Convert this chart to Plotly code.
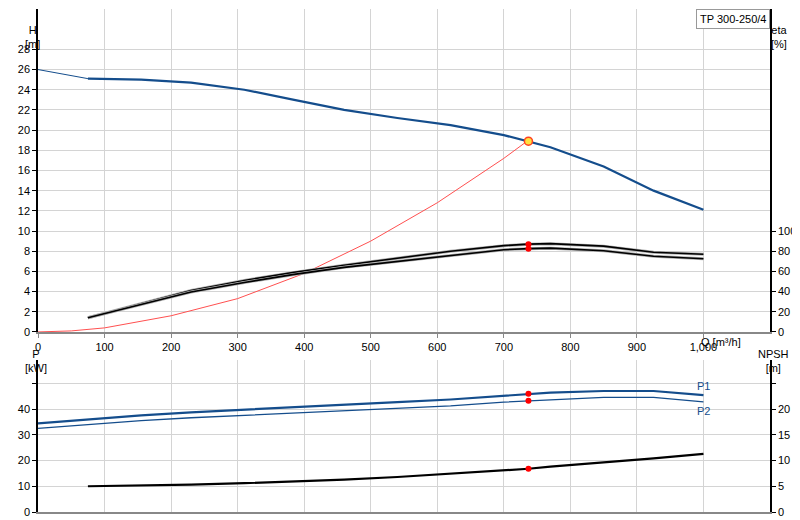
import plotly.graph_objects as go

q = [75, 155, 230, 310, 385, 460, 540, 620, 700, 737, 770, 850, 925, 1000]
head = [25.1, 25.0, 24.7, 24.0, 23.0, 22.0, 21.2, 20.5, 19.5, 18.9, 18.3, 16.4, 14.0, 12.1]
head_ext_q = [0, 75]
head_ext = [26.0, 25.1]
eta_upper = [14, 28, 41, 51, 59, 66, 73, 80, 85.5, 87, 87.5, 85, 79, 77]
eta_lower = [14, 27, 39.5, 49, 57, 64, 70, 76, 81.5, 82.5, 83, 80.5, 75, 72.5]
sys_q = [0, 50, 100, 200, 300, 400, 500, 600, 700, 737]
sys_h = [0, 0.1, 0.4, 1.6, 3.3, 5.8, 9.0, 12.8, 17.2, 19.0]
p_q = [0, 75, 155, 230, 310, 385, 460, 540, 620, 700, 737, 770, 850, 925, 1000]
p1 = [34.4, 36.0, 37.5, 38.7, 39.8, 40.8, 41.8, 42.7, 43.7, 45.2, 45.9, 46.4, 47.0, 47.0, 45.4]
p2 = [32.5, 34.0, 35.5, 36.6, 37.6, 38.5, 39.3, 40.2, 41.2, 42.7, 43.2, 43.6, 44.5, 44.5, 42.8]
npsh = [5.0, 5.1, 5.3, 5.6, 5.9, 6.3, 6.8, 7.4, 8.1, 8.4, 8.8, 9.6, 10.4, 11.3]
duty_q = 737

blue = '#144d8c'
fig = go.Figure()

# top chart
fig.add_trace(go.Scatter(x=head_ext_q, y=head_ext, mode='lines', line=dict(color=blue, width=1)))
fig.add_trace(go.Scatter(x=q, y=head, mode='lines', line=dict(color=blue, width=2.2)))
fig.add_trace(go.Scatter(x=sys_q, y=sys_h, mode='lines', line=dict(color='#ff5050', width=1)))
for e in (eta_upper, eta_lower):
    fig.add_trace(go.Scatter(x=q, y=e, yaxis='y2', mode='lines', line=dict(color='#b0b0b0', width=3)))
    fig.add_trace(go.Scatter(x=q, y=e, yaxis='y2', mode='lines', line=dict(color='black', width=1.6)))
fig.add_trace(go.Scatter(x=[duty_q, duty_q], y=[eta_upper[9], eta_lower[9]], yaxis='y2', mode='markers',
                         marker=dict(color='red', size=6)))
fig.add_trace(go.Scatter(x=[duty_q], y=[head[9]], mode='markers',
                         marker=dict(color='#ffe040', size=8, line=dict(color='#ff4020', width=1.5))))

# bottom chart
fig.add_trace(go.Scatter(x=p_q, y=p1, xaxis='x2', yaxis='y3', mode='lines', line=dict(color=blue, width=2.2)))
fig.add_trace(go.Scatter(x=p_q, y=p2, xaxis='x2', yaxis='y3', mode='lines', line=dict(color=blue, width=1.3)))
fig.add_trace(go.Scatter(x=q, y=npsh, xaxis='x2', yaxis='y4', mode='lines', line=dict(color='black', width=2.2)))
fig.add_trace(go.Scatter(x=[duty_q, duty_q], y=[p1[10], p2[10]], xaxis='x2', yaxis='y3', mode='markers',
                         marker=dict(color='red', size=6)))
fig.add_trace(go.Scatter(x=[duty_q], y=[npsh[9]], xaxis='x2', yaxis='y4', mode='markers',
                         marker=dict(color='red', size=6)))

grid = '#d4d4d4'
tick = dict(family='Liberation Sans, Arial', size=11, color='black')
xcommon = dict(range=[0, 1100], tickvals=list(range(0, 1001, 100)), showgrid=True, gridcolor=grid,
               zeroline=False, showline=True, linecolor='#888888', linewidth=2, ticks='outside',
               ticklen=4, tickcolor='#888888', tickfont=tick, automargin=False)
ycommon = dict(showgrid=True, gridcolor=grid, zeroline=False, showline=True, linecolor='black',
               linewidth=1.5, ticks='outside', ticklen=4, tickcolor='black', tickfont=tick,
               automargin=False)

fig.update_layout(
    width=800, height=520, showlegend=False,
    plot_bgcolor='white', paper_bgcolor='white',
    margin=dict(l=30, r=38, t=1, b=16),
    xaxis=dict(xcommon, domain=[0, 1], anchor='y', tickformat=',d'),
    yaxis=dict(ycommon, domain=[0.358, 1], range=[0, 32], tickvals=list(range(0, 30, 2))),
    yaxis2=dict(ycommon, overlaying='y', side='right', range=[0, 320], showgrid=False,
                tickvals=[0, 20, 40, 60, 80, 100]),
    xaxis2=dict(xcommon, domain=[0, 1], anchor='y3', showticklabels=False, ticks=''),
    yaxis3=dict(ycommon, domain=[0, 0.302], range=[0, 59],
                tickvals=[0, 10, 20, 30, 40, 50], ticktext=['0', '10', '20', '30', '40', '']),
    yaxis4=dict(ycommon, overlaying='y3', side='right', range=[0, 29.5], showgrid=False,
                tickvals=[0, 5, 10, 15, 20, 25], ticktext=['0', '5', '10', '15', '20', '']),
    font=tick,
)

ann = [
    dict(x=15, y=14, text='H<br>[m]'),
    dict(x=781, y=14, text='eta<br>[%]'),
    dict(x=15, y=368, text='P<br>[kW]'),
    dict(x=783, y=368, text='NPSH<br>[m]'),
]
for a in ann:
    fig.add_annotation(x=(a['x'] - 30) / 732, y=(504 - a['y']) / 503, xref='paper', yref='paper',
                       text=a['text'], showarrow=False, font=dict(size=11))
fig.add_annotation(x=(735 - 30) / 732, y=(504 - 334) / 503, xref='paper', yref='paper',
                   text='Q [m³/h]', showarrow=False, font=dict(size=11))
fig.add_annotation(x=1000, y=p1[-1], xref='x2', yref='y3', text='P1', showarrow=False,
                   yshift=9, font=dict(size=11, color=blue))
fig.add_annotation(x=1000, y=p2[-1], xref='x2', yref='y3', text='P2', showarrow=False,
                   yshift=-9, font=dict(size=11, color=blue))
fig.add_annotation(x=1, y=1, xref='paper', yref='paper', xanchor='right', yanchor='top',
                   text='TP 300-250/4', showarrow=False, font=dict(size=11),
                   bordercolor='#999999', borderwidth=1, bgcolor='white', borderpad=3)

fig.write_html("out.html")
